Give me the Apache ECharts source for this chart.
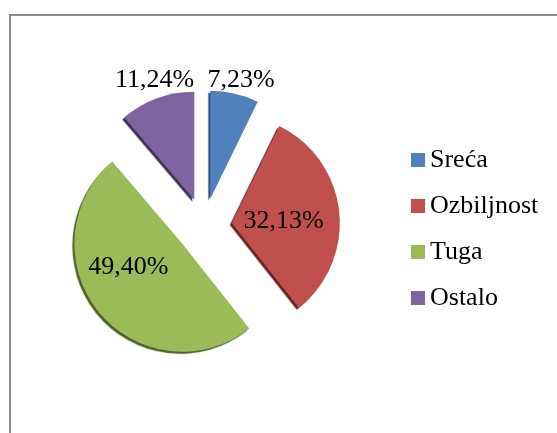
<!DOCTYPE html>
<html>
<head>
<meta charset="utf-8">
<script src="https://cdn.jsdelivr.net/npm/echarts@6/dist/echarts.min.js"></script>
<style>
html,body{margin:0;padding:0;background:#fff;}
#main{width:557px;height:433px;}
</style>
</head>
<body>
<div id="main"></div>
<script>
// Data
var categories = ['Sreća', 'Ozbiljnost', 'Tuga', 'Ostalo'];
var values = [7.23, 32.13, 49.40, 11.24];
var labelTexts = ['7,23%', '32,13%', '49,40%', '11,24%'];

// Styles (kept separate from data)
var colors = ['#4F81BD', '#C0504D', '#9BBB59', '#8064A2'];
var shadowColors = ['#2c4d75', '#632523', '#4f6228', '#3f3151'];
// label shifts [dx, dy] from the default inside position
var labelShifts = [[18, -63], [-5, 4], [-10, -13], [-20, -66]];

var chart = echarts.init(document.getElementById('main'), null, {renderer: 'canvas'});

var seriesData = categories.map(function (c, i) {
  return {
    name: c,
    value: values[i],
    selected: true,
    itemStyle: {
      color: colors[i],
      shadowColor: shadowColors[i],
      shadowBlur: 1,
      shadowOffsetX: -2,
      shadowOffsetY: 2
    },
    label: {
      formatter: labelTexts[i]
    }
  };
});

chart.setOption({
  animation: false,
  backgroundColor: '#ffffff',
  graphic: [{
    type: 'rect',
    shape: {x: 10, y: 15, width: 700, height: 600},
    style: {fill: 'none', stroke: '#8c8c8c', lineWidth: 2},
    silent: true,
    z: 0
  }],
  legend: {
    orient: 'vertical',
    left: 411,
    top: 147,
    itemWidth: 14,
    itemHeight: 14,
    itemGap: 20,
    icon: 'rect',
    selectedMode: false,
    padding: 0,
    textStyle: {
      fontFamily: 'Liberation Serif',
      fontSize: 26,
      lineHeight: 25,
      color: '#000'
    },
    data: categories
  },
  series: [{
    type: 'pie',
    center: [204, 226],
    radius: [0, 108],
    startAngle: 90,
    clockwise: true,
    selectedMode: 'multiple',
    selectedOffset: 28,
    avoidLabelOverlap: false,
    emphasis: {disabled: true},
    label: {
      show: true,
      position: 'inside',
      fontFamily: 'Liberation Serif',
      fontSize: 26,
      color: '#000'
    },
    labelLine: {show: false},
    labelLayout: function (params) {
      var s = labelShifts[params.dataIndex];
      return {dx: s[0], dy: s[1]};
    },
    data: seriesData
  }]
});
</script>
</body>
</html>
